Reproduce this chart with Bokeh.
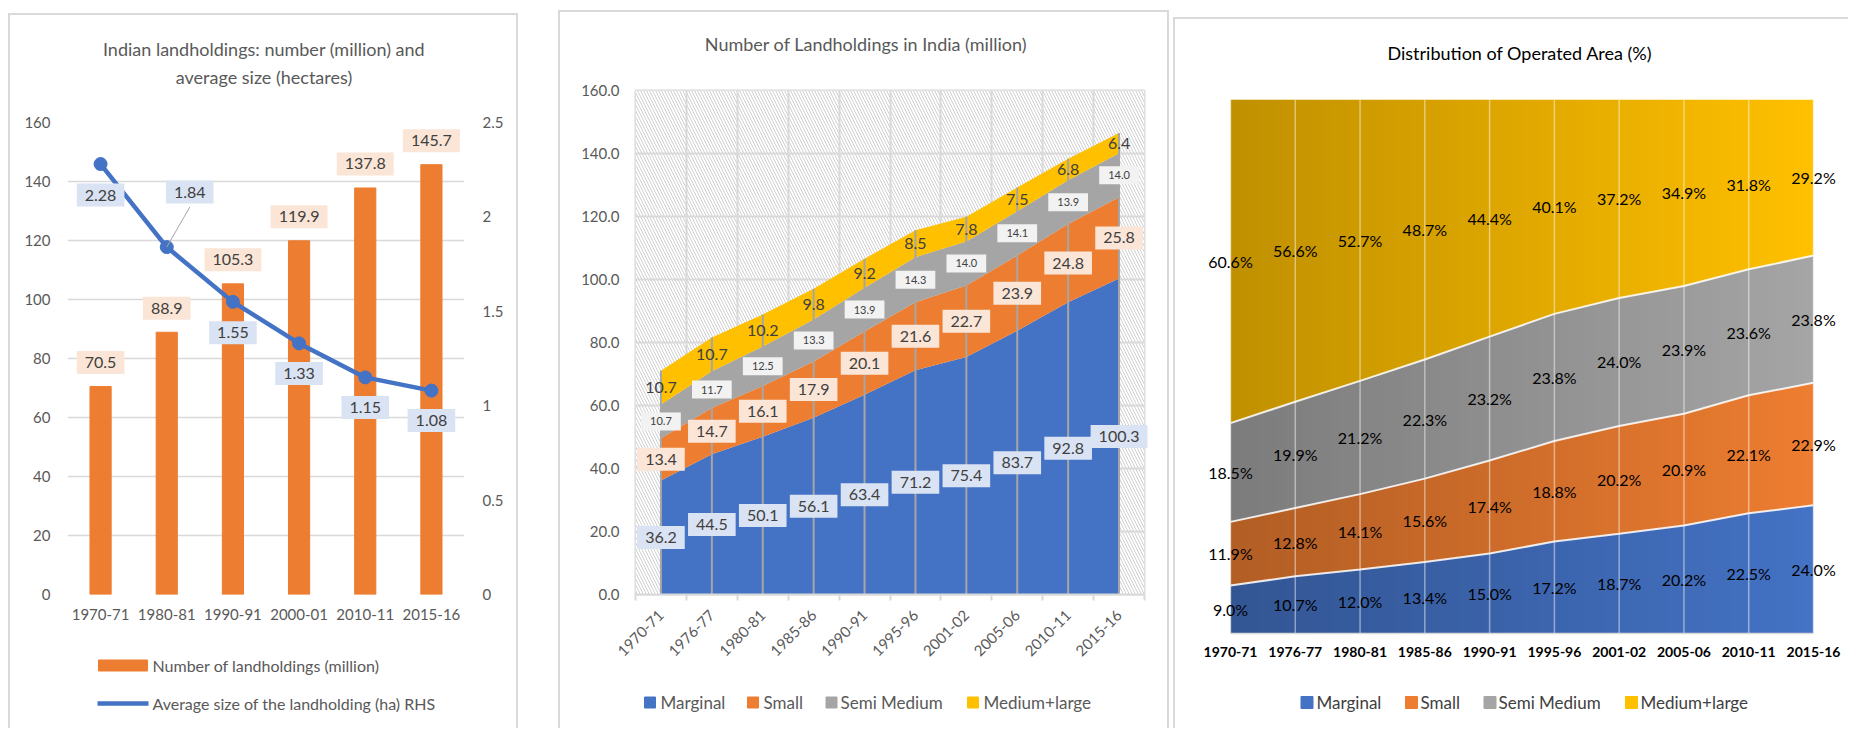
import math
import numpy as np
from bokeh.plotting import figure
from bokeh.models import (Range1d, FixedTicker, NumeralTickFormatter, LinearAxis,
                          BoxAnnotation, ColumnDataSource)
from bokeh.core.properties import value
from bokeh.embed import file_html
from bokeh.resources import INLINE

FONT = "Lato"
GRAY_TXT = "#595959"
DARK_TXT = "#404040"
GRID = "#D9D9D9"
BLUE, ORANGE, GREY, GOLD = "#4472C4", "#ED7D31", "#A5A5A5", "#FFC000"

# ---------------- data: panel 1 ----------------
years_a = ["1970-71", "1980-81", "1990-91", "2000-01", "2010-11", "2015-16"]
holdings_million = [70.5, 88.9, 105.3, 119.9, 137.8, 145.7]
avg_size_ha = [2.28, 1.84, 1.55, 1.33, 1.15, 1.08]
legend_a = ["Number of landholdings (million)", "Average size of the landholding (ha) RHS"]

# ---------------- data: panels 2 & 3 ----------------
years_b = ["1970-71", "1976-77", "1980-81", "1985-86", "1990-91",
           "1995-96", "2001-02", "2005-06", "2010-11", "2015-16"]
series_names = ["Marginal", "Small", "Semi Medium", "Medium+large"]
marginal_num = [36.2, 44.5, 50.1, 56.1, 63.4, 71.2, 75.4, 83.7, 92.8, 100.3]
small_num = [13.4, 14.7, 16.1, 17.9, 20.1, 21.6, 22.7, 23.9, 24.8, 25.8]
semi_num = [10.7, 11.7, 12.5, 13.3, 13.9, 14.3, 14.0, 14.1, 13.9, 14.0]
medlarge_num = [10.7, 10.7, 10.2, 9.8, 9.2, 8.5, 7.8, 7.5, 6.8, 6.4]

marginal_pct = [9.0, 10.7, 12.0, 13.4, 15.0, 17.2, 18.7, 20.2, 22.5, 24.0]
small_pct = [11.9, 12.8, 14.1, 15.6, 17.4, 18.8, 20.2, 20.9, 22.1, 22.9]
semi_pct = [18.5, 19.9, 21.2, 22.3, 23.2, 23.8, 24.0, 23.9, 23.6, 23.8]
medlarge_pct = [60.6, 56.6, 52.7, 48.7, 44.4, 40.1, 37.2, 34.9, 31.8, 29.2]

SERIES_COLORS = [BLUE, ORANGE, GREY, GOLD]


def make_fig(w, h, xr, yr, l, r, t, b):
    p = figure(width=w, height=h, x_range=xr, y_range=yr, output_backend="svg",
               toolbar_location=None, title_location=None,
               min_border_left=l, min_border_right=r, min_border_top=t, min_border_bottom=b)
    p.outline_line_color = None
    return p


def style_axis(ax, size="15px", color=GRAY_TXT, standoff=10, bold=False):
    ax.axis_line_color = None
    ax.major_tick_line_color = None
    ax.minor_tick_line_color = None
    ax.major_tick_out = 0
    ax.major_tick_in = 0
    ax.major_label_text_font = FONT
    ax.major_label_text_font_size = size
    ax.major_label_text_color = color
    ax.major_label_standoff = standoff
    ax.major_label_text_font_style = "bold" if bold else "normal"


def chart_title(p, lines, above_px, x_shift, color=GRAY_TXT, size="18px"):
    """Title lines centred above the plot frame (offsets in screen px)."""
    xc = (p.x_range.start + p.x_range.end) / 2
    yt = p.y_range.end
    p.text(x=[xc] * len(lines), y=[yt] * len(lines), text=lines,
           x_offset=x_shift, y_offset=[-a for a in above_px],
           text_align="center", text_baseline="middle", text_font=value(FONT),
           text_font_size=size, text_color=color, level="annotation")


def below_frame(p, fw, fh, dx, dy):
    """Screen offsets (dx right of frame-left, dy below frame-bottom) -> data coords."""
    xr, yr = p.x_range, p.y_range
    return (xr.start + np.asarray(dx, float) * (xr.end - xr.start) / fw,
            yr.start - np.asarray(dy, float) * (yr.end - yr.start) / fh)


def legend_labels(p, labels, dx, dy, size, color):
    p.text(x=[p.x_range.start] * len(labels), y=[p.y_range.start] * len(labels), text=labels,
           x_offset=dx, y_offset=dy, text_align="left", text_baseline="middle",
           text_font=value(FONT), text_font_size=size, text_color=color, level="annotation")


BOX_PAD = dict(x=8, y=6)

# =============== Panel 1 ===============
W1, H1, L1, R1, T1, B1 = 510, 715, 57, 56, 107, 136
FW1, FH1 = W1 - L1 - R1, H1 - T1 - B1
n1 = len(years_a)
p1 = make_fig(W1, H1, Range1d(0, n1), Range1d(0, 160), L1, R1, T1, B1)
p1.extra_y_ranges = {"avg": Range1d(0, 2.5)}
xa = [i + 0.5 for i in range(n1)]

p1.xgrid.visible = False
p1.ygrid.grid_line_color = GRID
p1.ygrid.grid_line_width = 1.5
yl = p1.yaxis[0]
yl.ticker = FixedTicker(ticks=list(range(0, 161, 20)))
style_axis(yl, standoff=17)
yr = LinearAxis(y_range_name="avg", ticker=FixedTicker(ticks=[0, 0.5, 1, 1.5, 2, 2.5]),
                formatter=NumeralTickFormatter(format="0.[0]"))
style_axis(yr, standoff=18)
p1.add_layout(yr, "right")
xb = p1.xaxis[0]
xb.ticker = FixedTicker(ticks=xa)
xb.major_label_overrides = {x: lab for x, lab in zip(xa, years_a)}
style_axis(xb, standoff=14)

p1.vbar(x=xa, top=holdings_million, width=0.32, color=ORANGE)
p1.line(xa, avg_size_ha, y_range_name="avg", color=BLUE, line_width=4.5)
p1.scatter(xa, avg_size_ha, y_range_name="avg", size=13, color=BLUE)

# label placement (screen px, positive = down)
LINE_LABEL_DX = [0, 23, 0, 0, 0, 0]
LINE_LABEL_DY = [31, -55, 31, 30, 30, 30]
for i in range(n1):
    if LINE_LABEL_DX[i] != 0:
        x_end = xa[i] + LINE_LABEL_DX[i] / (FW1 / n1)
        y_end = avg_size_ha[i] + (-LINE_LABEL_DY[i] - 15) / (FH1 / 2.5)
        p1.segment(x0=[xa[i]], y0=[avg_size_ha[i]], x1=[x_end], y1=[y_end],
                   y_range_name="avg", color="#A6A6A6", line_width=1)

p1.text(x=xa, y=holdings_million, text=[f"{v:.1f}" for v in holdings_million],
        y_offset=-24, text_align="center", text_baseline="middle",
        text_font=value(FONT), text_font_size="16px", text_color=DARK_TXT,
        background_fill_color="#FBE5D6", padding=BOX_PAD, level="annotation")
p1.text(x=xa, y=avg_size_ha, text=[f"{v:.2f}" for v in avg_size_ha],
        x_offset=LINE_LABEL_DX, y_offset=LINE_LABEL_DY, y_range_name="avg",
        text_align="center", text_baseline="middle",
        text_font=value(FONT), text_font_size="16px", text_color=DARK_TXT,
        background_fill_color="#DAE3F3", padding=BOX_PAD, level="annotation")

chart_title(p1, ["Indian landholdings: number (million) and", "average size (hectares)"],
            [74, 46], -2)

# legend (below the frame)
LEG1_DY = [71, 109]
sx, sy = below_frame(p1, FW1, FH1, [55.5], [LEG1_DY[0]])
p1.rect(x=sx, y=sy, width=49, height=11, width_units="screen", height_units="screen",
        color=ORANGE, level="annotation")
lx, ly = below_frame(p1, FW1, FH1, [30, 81], [LEG1_DY[1], LEG1_DY[1]])
p1.line(lx, ly, color=BLUE, line_width=4.5, level="annotation")
mx, my = below_frame(p1, FW1, FH1, [55.5], [LEG1_DY[1]])
p1.scatter(mx, my, size=12, color=BLUE, level="annotation")
legend_labels(p1, legend_a, [85, 85], LEG1_DY, "16px", GRAY_TXT)

# =============== Panel 2 ===============
W2, H2, L2, R2, T2, B2 = 611, 718, 75, 27, 78, 136
FW2, FH2 = W2 - L2 - R2, H2 - T2 - B2
n2 = len(years_b)
p2 = make_fig(W2, H2, Range1d(0, n2), Range1d(0, 160), L2, R2, T2, B2)
p2.outline_line_color = GRID
p2.outline_line_width = 2
xs2 = [i + 0.5 for i in range(n2)]

p2.add_layout(BoxAnnotation(fill_color="white", fill_alpha=1, line_color=None,
                            hatch_pattern="left_diagonal_line", hatch_color="#CFCFCF",
                            hatch_scale=6, hatch_weight=1, level="image"))
p2.xgrid.ticker = FixedTicker(ticks=list(range(n2 + 1)))
p2.xgrid.grid_line_color = GRID
p2.xgrid.grid_line_width = 2
p2.ygrid.grid_line_color = GRID
p2.ygrid.grid_line_width = 2
y2 = p2.yaxis[0]
y2.ticker = FixedTicker(ticks=list(range(0, 161, 20)))
y2.formatter = NumeralTickFormatter(format="0.0")
style_axis(y2, standoff=16)
x2 = p2.xaxis[0]
x2.ticker = FixedTicker(ticks=xs2, minor_ticks=list(range(n2 + 1)))
x2.major_label_overrides = {x: lab for x, lab in zip(xs2, years_b)}
style_axis(x2, standoff=12)
x2.axis_line_color = GRID
x2.axis_line_width = 2
x2.minor_tick_line_color = GRID
x2.minor_tick_line_width = 2
x2.minor_tick_out = 6
x2.minor_tick_in = 0
x2.major_label_orientation = math.pi / 4

src2 = ColumnDataSource(dict(x=xs2, m=marginal_num, s=small_num, sm=semi_num, ml=medlarge_num))
p2.varea_stack(stackers=["m", "s", "sm", "ml"], x="x", color=SERIES_COLORS, source=src2)
m2, s2, sm2, ml2 = (np.array(a) for a in (marginal_num, small_num, semi_num, medlarge_num))
c1 = m2
c2 = c1 + s2
c3 = c2 + sm2
c4 = c3 + ml2
p2.segment(x0=xs2, y0=[0] * n2, x1=xs2, y1=list(c4), color="#A6A6A6", line_width=2)

label_sets2 = [
    (m2 / 2, marginal_num, "#DAE3F3", "16px", BOX_PAD),
    (c1 + s2 / 2, small_num, "#FBE5D6", "16px", BOX_PAD),
    (c2 + sm2 / 2, semi_num, "#F2F2F2", "11px", dict(x=9, y=5)),
    (c3 + ml2 / 2, medlarge_num, None, "16px", 0),
]
for ys, vals, bg, fs, pad in label_sets2:
    p2.text(x=xs2, y=list(ys), text=[f"{v:.1f}" for v in vals], text_align="center",
            text_baseline="middle", text_font=value(FONT), text_font_size=fs,
            text_color=DARK_TXT, background_fill_color=bg, padding=pad, level="annotation")

chart_title(p2, ["Number of Landholdings in India (million)"], [47], -24)

LEG2_SW_DX = [14.5, 117.5, 196, 337.5]
LEG2_TX_DX = [25, 128, 205, 348]
LEG2_DY = 108
sx, sy = below_frame(p2, FW2, FH2, LEG2_SW_DX, [LEG2_DY] * 4)
p2.rect(x=sx, y=sy, width=11, height=11, width_units="screen", height_units="screen",
        color=SERIES_COLORS, level="annotation")
legend_labels(p2, series_names, LEG2_TX_DX, [LEG2_DY] * 4, "17px", GRAY_TXT)

# =============== Panel 3 ===============
W3, H3, L3, R3, T3, B3 = 675, 711, 55, 37, 80, 97
FW3, FH3 = W3 - L3 - R3, H3 - T3 - B3
n3 = len(years_b)
p3 = make_fig(W3, H3, Range1d(0, n3 - 1), Range1d(0, 100), L3, R3, T3, B3)
xs3 = list(range(n3))
p3.xgrid.visible = False
p3.ygrid.visible = False
p3.yaxis.visible = False
x3 = p3.xaxis[0]
x3.ticker = FixedTicker(ticks=xs3)
x3.major_label_overrides = {x: lab for x, lab in zip(xs3, years_b)}
style_axis(x3, size="14px", color="#000000", standoff=13, bold=True)
x3.axis_line_color = GRID
x3.axis_line_width = 1.5

raw3 = np.array([marginal_pct, small_pct, semi_pct, medlarge_pct])
norm3 = raw3 / raw3.sum(axis=0) * 100
src3 = ColumnDataSource(dict(x=xs3, m=norm3[0], s=norm3[1], sm=norm3[2], ml=norm3[3]))
p3.varea_stack(stackers=["m", "s", "sm", "ml"], x="x", color=SERIES_COLORS, source=src3)

# left-to-right darkening (gradient look)
NG = 240
shade = np.zeros((1, NG), dtype=np.uint32)
sv = shade.view(dtype=np.uint8).reshape((1, NG, 4))
sv[0, :, 3] = (64 * (1 - np.linspace(0, 1, NG))).astype(np.uint8)
p3.image_rgba(image=[shade], x=0, y=0, dw=n3 - 1, dh=100, level="glyph")

cum3 = np.cumsum(norm3, axis=0)
p3.segment(x0=xs3, y0=[0] * n3, x1=xs3, y1=list(cum3[3]), color="white", alpha=0.45, line_width=1.5)
for k in range(3):
    p3.line(xs3, list(cum3[k]), color="white", alpha=0.85, line_width=2)

lower3 = np.vstack([np.zeros(n3), cum3[:3]])
for k in range(4):
    mids = lower3[k] + norm3[k] / 2
    p3.text(x=xs3, y=list(mids), text=[f"{v:.1f}%" for v in raw3[k]], text_align="center",
            text_baseline="middle", text_font=value(FONT), text_font_size="16px",
            text_color="#000000", level="annotation")

chart_title(p3, ["Distribution of Operated Area (%)"], [47], -2, color="#000000")

LEG3_SW_DX = [76.5, 181, 259.5, 401]
LEG3_TX_DX = [86, 190, 268, 410]
LEG3_DY = 69
sx, sy = below_frame(p3, FW3, FH3, LEG3_SW_DX, [LEG3_DY] * 4)
p3.rect(x=sx, y=sy, width=12, height=12, width_units="screen", height_units="screen",
        color=SERIES_COLORS, level="annotation")
legend_labels(p3, series_names, LEG3_TX_DX, [LEG3_DY] * 4, "17px", DARK_TXT)

# =============== page placement (independent roots) ===============
B = f"2px solid {GRID}"
p1.styles = {"position": "absolute", "left": "8px", "top": "13px",
             "border-top": B, "border-left": B, "border-right": B}
p2.styles = {"position": "absolute", "left": "558px", "top": "10px",
             "border-top": B, "border-left": B, "border-right": B}
p3.styles = {"position": "absolute", "left": "1173px", "top": "17px",
             "border-top": B, "border-left": B}

open("out.html", "w").write(file_html([p1, p2, p3], INLINE))
